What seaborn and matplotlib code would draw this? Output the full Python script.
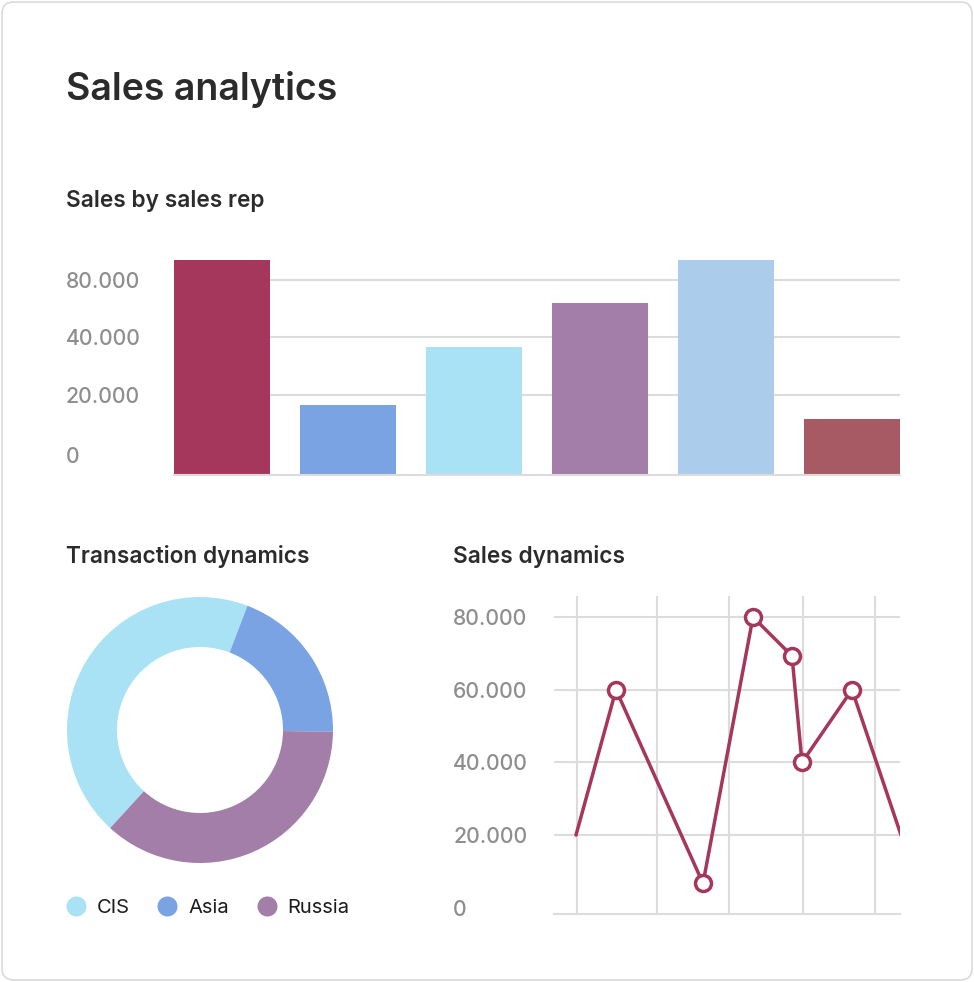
import numpy as np
import pandas as pd
import matplotlib
matplotlib.use("Agg")
import matplotlib.pyplot as plt
import matplotlib.transforms as mtransforms
from matplotlib.patches import FancyBboxPatch
from matplotlib.lines import Line2D
import seaborn as sns

# --- data ---
reps = ["Rep 1", "Rep 2", "Rep 3", "Rep 4", "Rep 5", "Rep 6"]
rep_sales = [94000, 17600, 36800, 64000, 94000, 14000]
rep_colors = ["#A6375C", "#7AA3E3", "#A9E2F5", "#A37EA8", "#ABCDEB", "#A85A64"]
bar_ticks = [0, 20000, 40000, 80000]
bar_ticklabels = ["0", "20.000", "40.000", "80.000"]

regions = ["CIS", "Asia", "Russia"]
region_share = [44, 19.4, 36.6]
region_colors = ["#A9E2F5", "#7AA3E3", "#A37EA8"]

day = [22, 62, 149, 199, 238, 248, 298, 347]
sales = [20000, 60000, 6700, 80000, 69300, 40000, 60000, 20000]
line_ticks = [0, 20000, 40000, 60000, 80000]
line_ticklabels = ["0", "20.000", "40.000", "60.000", "80.000"]
day_grid = [23, 103, 175, 249, 321]

W, H = 974, 982
LINE_C = "#A6375C"
GRID_C = "#DCDCDC"
TICK_C = "#8E8E8E"
TEXT_C = "#2B2B2B"

sns.set_theme(style="white")
plt.rcParams["font.family"] = ["Inter", "DejaVu Sans"]

fig = plt.figure(figsize=(W / 100, H / 100), dpi=100)
fig.patch.set_facecolor("white")


def box(l, t, r, b):
    return [l / W, 1 - b / H, (r - l) / W, (b - t) / H]


# card outline
card = FancyBboxPatch((2 / W, 2 / H), (W - 4) / W, (H - 4) / H,
                      boxstyle="round,pad=0,rounding_size=0.012",
                      transform=fig.transFigure, facecolor="none",
                      edgecolor="#DADADA", linewidth=1.2, zorder=-10)
fig.patches.append(card)

fig.text(66 / W, 1 - 100 / H, "Sales analytics", fontsize=27, fontweight="semibold",
         color=TEXT_C, va="baseline", ha="left")
for x, y, s in [(66, 207, "Sales by sales rep"), (66, 563, "Transaction dynamics"),
                (453, 563, "Sales dynamics")]:
    fig.text(x / W, 1 - y / H, s, fontsize=16.3, fontweight="semibold",
             color=TEXT_C, va="baseline", ha="left")

# --- bar chart (uneven value axis as in the original) ---
ax1 = fig.add_axes(box(174, 240, 900, 475))
vals_pts = [0, 20000, 40000, 80000, 200000]
px_pts = [0, 80, 137.6, 195.3, 368.4]
ax1.set_yscale("function", functions=(lambda v: np.interp(v, vals_pts, px_pts),
                                      lambda p: np.interp(p, px_pts, vals_pts)))
df_bar = pd.DataFrame({"rep": reps, "sales": rep_sales})
sns.barplot(data=df_bar, x="rep", y="sales", hue="rep", palette=rep_colors,
            saturation=1, width=0.762, legend=False, ax=ax1, zorder=2, linewidth=0)
ax1.set_xlim(-0.381, 5.381)
ax1.set_ylim(0, float(np.interp(235, px_pts, vals_pts)))
for v in bar_ticks[1:]:
    ax1.axhline(v, color=GRID_C, lw=1.5, zorder=0)
ax1.set_yticks(bar_ticks)
ax1.set_yticklabels(bar_ticklabels)
ax1.set_xticks([])
ax1.set_xlabel("")
ax1.set_ylabel("")
ax1.tick_params(axis="y", length=0, pad=77.8, labelsize=15.3, labelcolor=TICK_C)
for lab in ax1.get_yticklabels():
    lab.set_horizontalalignment("left")
    lab.set_fontweight("medium")
zero_lab = ax1.get_yticklabels()[0]
zero_lab.set_transform(zero_lab.get_transform() +
                       mtransforms.ScaledTranslation(0, 20 / 100, fig.dpi_scale_trans))
for s in ["top", "right", "left"]:
    ax1.spines[s].set_visible(False)
ax1.spines["bottom"].set_color(GRID_C)
ax1.spines["bottom"].set_linewidth(1.5)

# --- donut ---
ax2 = fig.add_axes(box(67, 597, 333, 863))
ax2.pie(region_share, colors=region_colors, startangle=227.5, counterclock=False,
        wedgeprops=dict(width=0.376, linewidth=0))
ax2.set_xlim(-1, 1)
ax2.set_ylim(-1, 1)
ax2.set_aspect("equal")
handles = [Line2D([], [], marker="o", linestyle="", markersize=14.4,
                  markerfacecolor=c, markeredgewidth=0) for c in region_colors]
leg = fig.legend(handles, regions, loc="center left",
                 bbox_to_anchor=(66 / W, 1 - 908 / H), bbox_transform=fig.transFigure,
                 ncol=3, frameon=False, fontsize=14.5, handlelength=1.0,
                 handletextpad=0.55, columnspacing=1.35, borderpad=0, borderaxespad=0)
for t in leg.get_texts():
    t.set_color("#1C1C1C")

# --- line chart ---
ax3 = fig.add_axes(box(554, 596, 900, 914))
for x in day_grid:
    ax3.axvline(x, color=GRID_C, lw=1.5, zorder=0)
for v in line_ticks[1:]:
    ax3.axhline(v, color=GRID_C, lw=1.5, zorder=0)
sns.lineplot(x=day, y=sales, ax=ax3, color=LINE_C, lw=2.5, marker="o",
             markersize=11.5, markerfacecolor="white", markeredgecolor=LINE_C,
             markeredgewidth=2.5, markevery=[1, 2, 3, 4, 5, 6], zorder=3)
ax3.set_xlim(0, 346)
ax3.set_ylim(-1730, 85800)
ax3.set_yticks(line_ticks)
ax3.set_yticklabels(line_ticklabels)
ax3.set_xticks([])
ax3.tick_params(axis="y", length=0, pad=72.7, labelsize=15.3, labelcolor=TICK_C)
for lab in ax3.get_yticklabels():
    lab.set_horizontalalignment("left")
    lab.set_fontweight("medium")
for s in ["top", "right", "left"]:
    ax3.spines[s].set_visible(False)
ax3.spines["bottom"].set_color(GRID_C)
ax3.spines["bottom"].set_linewidth(1.5)

fig.savefig("out.png", dpi=100, facecolor="white")
